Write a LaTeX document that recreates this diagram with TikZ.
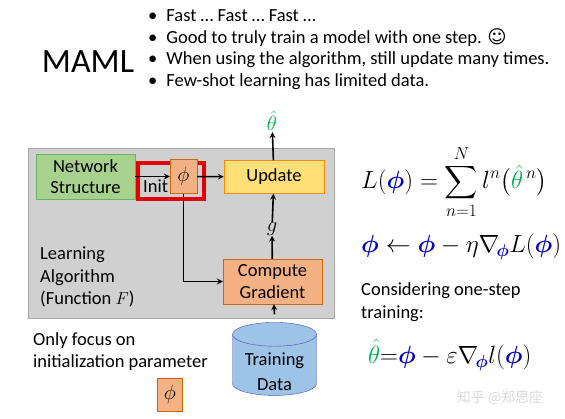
\documentclass[tikz,border=0pt]{standalone}
\usepackage{amsmath}
\usepackage{amssymb}
\usepackage{fontspec}
\setmainfont{Carlito}
\newfontfamily\symfont{DejaVu Sans}
\newfontfamily\cjkfont{Noto Sans CJK SC}
\usepackage{tikz}
\usetikzlibrary{shapes.geometric}

\definecolor{phiblue}{RGB}{0,0,200}
\definecolor{thetagreen}{RGB}{0,176,80}
\definecolor{algogray}{RGB}{208,208,208}
\definecolor{netgreen}{RGB}{169,209,142}
\definecolor{paramorange}{RGB}{244,177,131}
\definecolor{updateyellow}{RGB}{255,223,120}
\definecolor{dataBlue}{RGB}{157,195,230}

\newcommand{\vphi}{{\color{phiblue}\boldsymbol{\phi}}}
\newcommand{\vtheta}{{\color{thetagreen}\hat{\theta}}}

\begin{document}
\begin{tikzpicture}[
      x=1pt, y=-1pt,
      txt/.style={font=\fontsize{18.5}{22.5}\selectfont, inner sep=0pt},
      bullet/.style={txt, anchor=west},
      mathtxt/.style={font=\fontsize{22}{26}\selectfont, inner sep=0pt},
      eqtxt/.style={font=\fontsize{23}{27}\selectfont, inner sep=0pt, anchor=west},
      algobox/.style={draw=black!35, fill=algogray, minimum width=306pt, minimum height=170pt},
      netbox/.style={draw=green!50!black!60, fill=netgreen, txt, align=center, minimum width=99pt, minimum height=45pt},
      parambox/.style={draw=orange!80!black, fill=paramorange, mathtxt, minimum width=27pt, minimum height=34pt},
      updbox/.style={draw=orange!90!yellow, fill=updateyellow, txt, minimum width=100pt, minimum height=33pt},
      gradbox/.style={draw=orange!80!black, fill=paramorange, txt, align=center, minimum width=99pt, minimum height=45pt},
      databox/.style={cylinder, shape border rotate=90, aspect=0.4, draw=blue!40!gray, fill=dataBlue, txt, align=center, minimum width=84pt, minimum height=73pt},
      highlight/.style={draw=red!90!black, line width=4pt, minimum width=66pt, minimum height=36pt},
      trans/.style={line width=1.6pt,->,>=stealth}
    ]
    \useasboundingbox (0,0) rectangle (565,419);
    % Draw the title and the bullets.
    \node[font=\fontsize{34}{40}\selectfont, inner sep=0pt] (maml) at (88,62) {MAML};
    \node[bullet] (b1) at (148,16) {\textbullet\hspace{9pt}Fast … Fast … Fast …};
    \node[bullet] (b2) at (148,38) {\textbullet\hspace{9pt}Good to truly train a model with one step. {\symfont ☺}};
    \node[bullet] (b3) at (148,60) {\textbullet\hspace{9pt}When using the algorithm, still update many times.};
    \node[bullet] (b4) at (148,82) {\textbullet\hspace{9pt}Few-shot learning has limited data.};
    % Draw the learning algorithm.
    \node[algobox] (algo) at (181,233) {};
    \node[netbox] (net) at (85.5,176.5) {Network\\[-1pt]Structure};
    \node[highlight] (focus) at (171,181) {};
    \node[parambox] (phi) at (183.5,176.5) {$\phi$};
    \node[updbox] (upd) at (274,177) {Update};
    \node[gradbox] (grad) at (272.5,281.5) {Compute\\[-1pt]Gradient};
    \node[txt, anchor=north west] (init) at (143,180) {Init};
    \node[txt, align=left, anchor=west] (learn) at (40,277) {Learning\\Algorithm\\(Function $F$)};
    \node[mathtxt] (g) at (272,229) {$g$};
    \node[mathtxt, inner sep=1pt] (theta) at (272,121) {$\vtheta$};
    % Draw the training data.
    \node[databox] (data) at (274.5,365) {\phantom{Training}\\[-2pt]\phantom{Data}};
    \node[txt, align=center] (datatxt) at (274.5,371.5) {Training\\[3pt]Data};
    \node[txt, align=left, anchor=west] (focustxt) at (33,351.5) {Only focus on\\initialization parameter};
    \node[parambox, minimum width=25pt, minimum height=33pt] (phi2) at (170,394.5) {$\phi$};
    % Draw the transitions.
    \draw[trans] (net) -- (phi);
    \draw[trans] (phi) -- (upd);
    \draw[trans] (phi.south) |- (grad.west);
    \draw[trans] (grad) -- (g);
    \draw[trans] (g) -- (upd);
    \draw[trans] (upd) -- (theta);
    \draw[trans] ([yshift=8pt]data.north) -- (grad);
    % Draw the equations.
    \node[eqtxt] (loss) at (361,182) {$L(\vphi)=\displaystyle\sum_{n=1}^{N} l^n\big(\vtheta^{\,n}\big)$};
    \node[eqtxt] (rule) at (361,247) {$\vphi\leftarrow\vphi-\eta\nabla_{\!\vphi}L(\vphi)$};
    \node[txt, align=left, anchor=west] (onestep) at (361,302) {Considering one-step\\training:};
    \node[eqtxt] (onerule) at (368,355) {$\vtheta{=}\vphi-\varepsilon\nabla_{\!\vphi}l(\vphi)$};
    \node[font=\cjkfont\fontsize{14}{16}\selectfont, text=black!15, inner sep=0pt] (mark) at (500,398) {知乎 @郑思座};
\end{tikzpicture}
\end{document}
